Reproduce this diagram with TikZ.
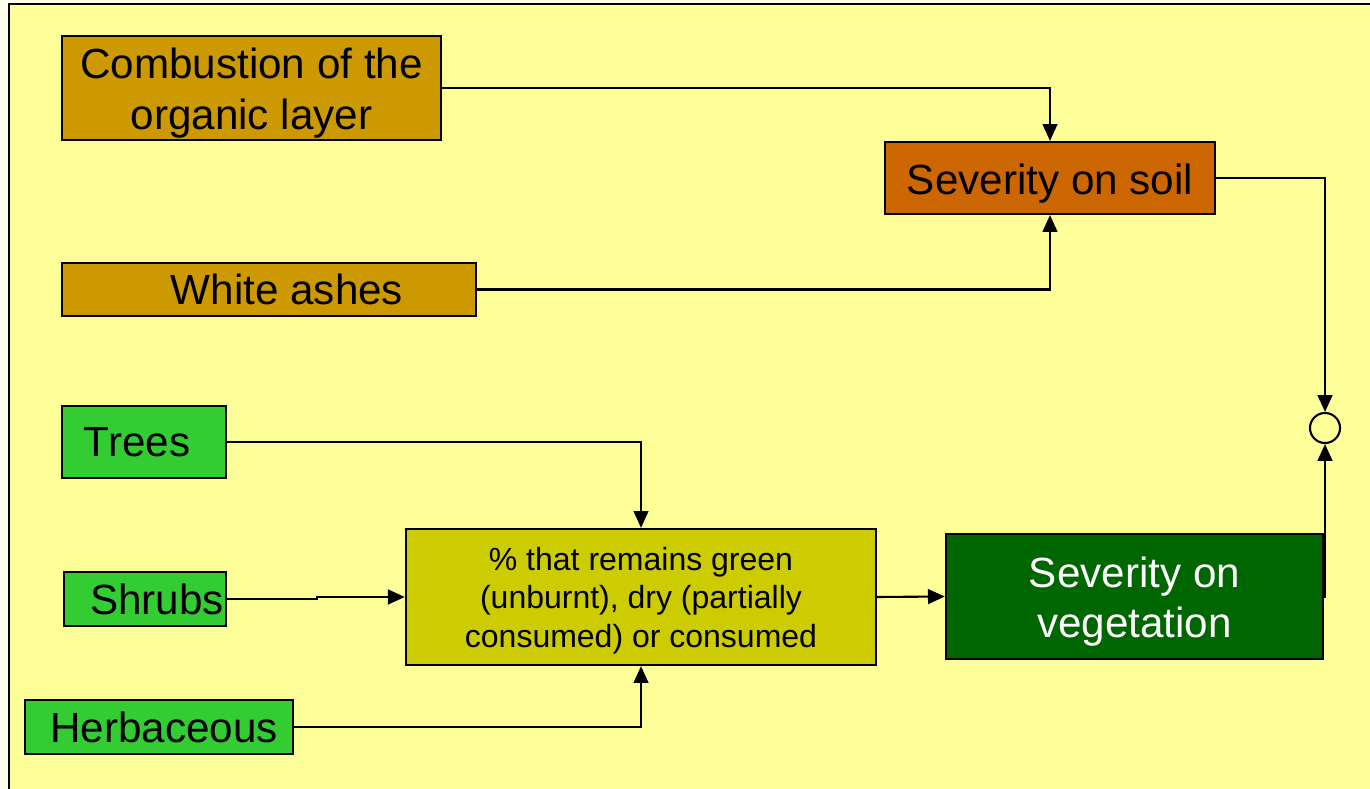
\documentclass[tikz,border=0pt]{standalone}
\usepackage{fontspec}
\setmainfont{Liberation Sans}
\usetikzlibrary{arrows.meta}
\definecolor{pageYellow}{HTML}{FFFFEC}
\definecolor{frameYellow}{HTML}{FFFF99}
\definecolor{soilBrown}{HTML}{CC9900}
\definecolor{soilOrange}{HTML}{CC6600}
\definecolor{plantGreen}{HTML}{33CC33}
\definecolor{mixOlive}{HTML}{CCCC00}
\definecolor{vegGreen}{HTML}{006600}
\newcommand{\bigText}{\fontsize{12}{14.3}\selectfont}
\newcommand{\smallText}{\fontsize{9.1}{10.9}\selectfont}
%% Extra room above the first line, to sit the text a little lower.
\newcommand{\bigTop}{\rule{0pt}{11.6pt}}
\newcommand{\smallTop}{\rule{0pt}{8.6pt}}
\begin{document}
\begin{tikzpicture}[%%
  x=0.01cm,y=-0.01cm,%%
  boxStyle/.style={draw=black,line width=0.6pt,inner sep=0pt,align=center,font=\bigText},%%
  brownStyle/.style={boxStyle,fill=soilBrown},%%
  greenStyle/.style={boxStyle,fill=plantGreen},%%
  arrowStyle/.style={-{Triangle[length=4.8pt,width=4.2pt]},line width=0.6pt}%%
]
%%
%% Page and frame.
\useasboundingbox (0,0) rectangle (1370,789);
\fill[pageYellow] (0,0) rectangle (1370,789);
\filldraw[fill=frameYellow,draw=black,line width=0.5pt] (9,4) rectangle (1380,800);
%%
%% Soil side.
\node[brownStyle,minimum width=3.79cm,minimum height=1.04cm] (comb) at (251.5,88)
  {\bigTop Combustion of the\\organic layer};
\node[brownStyle,minimum width=4.14cm,minimum height=0.53cm] (ashes) at (269,289.5)
  {\hspace*{0.36cm}White ashes};
\node[boxStyle,fill=soilOrange,minimum width=3.30cm,minimum height=0.72cm] (soil) at (1050,178)
  {\bigTop Severity on soil};
%%
%% Vegetation side.
\node[greenStyle,minimum width=1.64cm,minimum height=0.72cm] (trees) at (144,442)
  {\hspace*{-0.14cm}Trees};
\node[greenStyle,minimum width=1.62cm,minimum height=0.54cm] (shrubs) at (145,599)
  {\hspace*{0.24cm}Shrubs};
\node[greenStyle,minimum width=2.68cm,minimum height=0.54cm] (herb) at (159,727)
  {\hspace*{0.10cm}Herbaceous};
\node[boxStyle,fill=mixOlive,font=\smallText,minimum width=4.70cm,minimum height=1.36cm] (pct) at (641,597)
  {\smallTop\% that remains green\\(unburnt), dry (partially\\consumed) or consumed};
\node[boxStyle,fill=vegGreen,text=white,minimum width=3.77cm,minimum height=1.25cm] (veg) at (1134.5,596.5)
  {\bigTop Severity on\\vegetation};
%%
%% Junction.
\node[draw=black,circle,line width=0.6pt,minimum size=0.30cm,inner sep=0pt] (circ) at (1325,428) {};
%%
%% Connectors.
\draw[arrowStyle] (comb.east) -| (soil.north);
\draw[arrowStyle] (ashes.east) -| (soil.south);
\draw[arrowStyle] (soil.east) -| (circ.north);
\draw[arrowStyle] (veg.east) -| (circ.south);
\draw[arrowStyle] (trees.east) -| (pct.north);
\draw[arrowStyle] (shrubs.east) -- ++(90,0) |- (pct.west);
\draw[arrowStyle] (herb.east) -| (pct.south);
\draw[arrowStyle] (pct.east) -- (veg.west);
\end{tikzpicture}
\end{document}
